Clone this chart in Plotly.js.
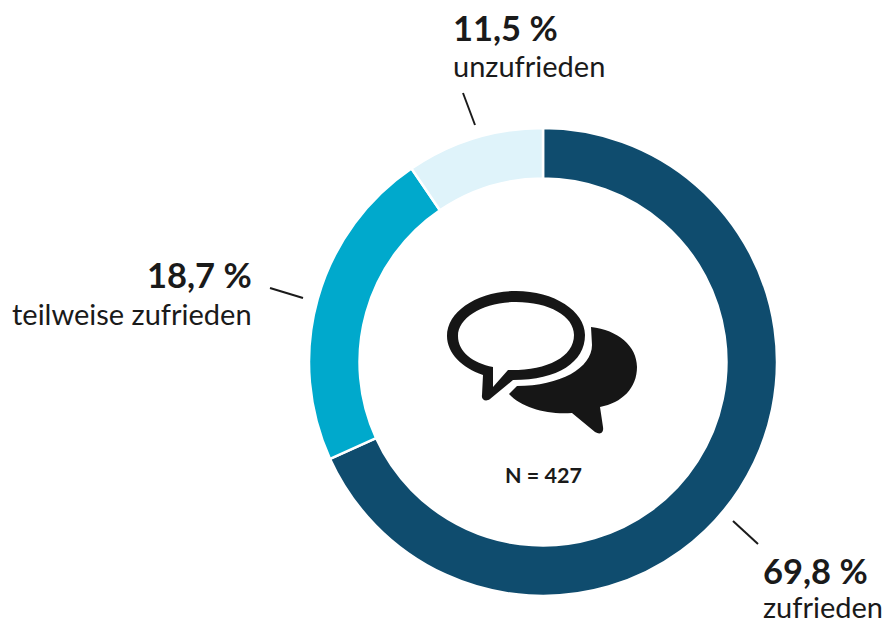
<!DOCTYPE html>
<html><head><meta charset="utf-8">
<script src="https://cdn.plot.ly/plotly-3.0.1.min.js"></script>
<style>html,body{margin:0;padding:0;background:#fff}#c{width:886px;height:624px}</style>
</head><body><div id="c"></div>
<script>
// Printed labels
const categories = ['zufrieden','teilweise zufrieden','unzufrieden'];
const printedValues = ['69,8 %','18,7 %','11,5 %'];
// Sweep of each ring segment as drawn in the picture (share of the circle)
const drawnShares = [68.2,22.3,9.5];
const colors = ['#0f4c6e','#00a9cc','#dff3fa'];
const W=886,H=624;
const fx=x=>x/W, fy=y=>1-y/H;
function P(cmds){return cmds.map(c=>{
  const [k,...a]=c;
  return k+a.map((v,i)=>i%2===0?fx(v):fy(v)).join(' ');
}).join(' ');}
const ring=[['M',483,375],['C',462,368,447,353,447,336],['C',447,311,478,291,516,291],['C',554,291,585,311,585,335],
 ['C',585,362,558,380,513,380],['L',490,399],['C',486,402,481,400,482,395],['Z'],
 ['M',493,367],['L',493,387],['L',508,370],['C',545,371,574,358,574,335],['C',574,316,549,302,516,302],
 ['C',484,302,458,317,458,336],['C',458,352,473,363,493,367],['Z']];
const back=[['M',591,327],['C',618,330,637,346,637,367],['C',637,388,622,403,600,407],['L',603,427],
 ['C',604,433,600,435,595,432],['L',572,413],['C',548,415,522,408,509,394],['L',517,386],
 ['C',560,386,592,368,592,345],['Z']];
const rule=(x0,y0,x1,y1)=>({type:'line',xref:'paper',yref:'paper',x0:fx(x0),y0:fy(y0),x1:fx(x1),y1:fy(y1),line:{color:'#1a1a1a',width:2}});
const shapes=[
 {type:'path',xref:'paper',yref:'paper',path:P(back),fillcolor:'#161616',line:{width:0}},
 {type:'path',xref:'paper',yref:'paper',path:P(ring),fillcolor:'#161616',line:{width:0},fillrule:'evenodd'},
 rule(463,93,475,125),rule(270,288,303,298),rule(733,521,758,544)];
const font='Lato, sans-serif';
const ann=(text,x,y,anchor,size,bold)=>({text:bold?'<b>'+text+'</b>':text,xref:'paper',yref:'paper',x:fx(x),y:fy(y),
 xanchor:anchor,yanchor:'middle',showarrow:false,borderpad:0,font:{family:font,size:size,color:'#1a1a1a'}});
const annotations=[
 ann(printedValues[2],452,28,'left',34.5,true),ann(categories[2],452,66,'left',29,false),
 ann(printedValues[1],253,274,'right',34.5,true),ann(categories[1],253,313,'right',29,false),
 ann(printedValues[0],762,570,'left',34.5,true),ann(categories[0],762,606,'left',29,false),
 ann('N = 427',543,475,'center',21.5,true)];
Plotly.newPlot('c',[{type:'pie',labels:categories,values:drawnShares,sort:false,direction:'clockwise',rotation:0,
 hole:0.784,textinfo:'none',hoverinfo:'skip',showlegend:false,marker:{colors:colors,line:{color:'#fff',width:2.5}},
 domain:{x:[fx(309),fx(777)],y:[fy(596),fy(128)]}}],
 {width:W,height:H,margin:{l:0,r:0,t:0,b:0},paper_bgcolor:'#fff',showlegend:false,shapes,annotations},
 {displayModeBar:false,staticPlot:true});
</script></body></html>
